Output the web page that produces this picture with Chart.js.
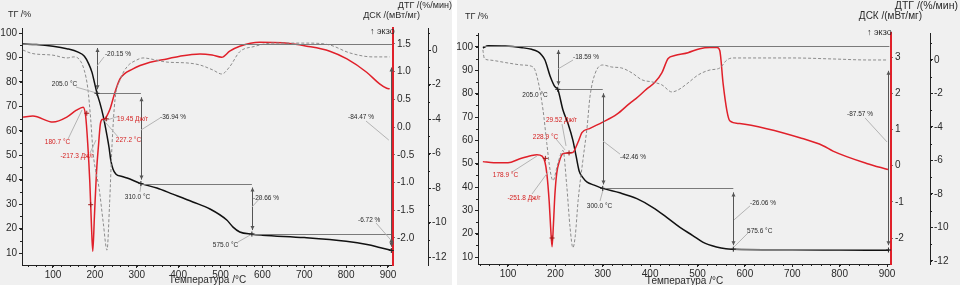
<!DOCTYPE html>
<html>
<head>
<meta charset="utf-8">
<script src="https://cdn.jsdelivr.net/npm/chart.js@4.4.1/dist/chart.umd.min.js"></script>
<style>
    html, body { margin: 0; padding: 0; background: #fff; }
    #wrap { position: relative; width: 960px; height: 285px; overflow: hidden; }
    canvas { position: absolute; top: 0; }
    #left-chart { left: 0; }
    #right-chart { left: 457px; }
</style>
</head>
<body>
<div id="wrap">
    <canvas id="left-chart" width="452" height="285"></canvas>
    <canvas id="right-chart" width="503" height="285"></canvas>
</div>
<script>
// ---- left sample: values ----
const leftTgTemp = [28, 60, 100, 133, 160, 175, 185, 193, 200, 205, 212, 220, 229, 234, 238, 243, 250, 265, 277, 310, 348, 386, 434, 475, 515, 530, 546, 575, 600, 700, 800, 850, 880, 910];
const leftTg = [95.5, 95.3, 94.6, 93.6, 92.2, 90.5, 87.5, 84.0, 79.0, 75.4, 71.4, 66.0, 58.0, 53.0, 48.0, 44.5, 42.3, 41.3, 40.7, 38.4, 36.6, 34.1, 30.9, 28.0, 23.5, 20.6, 18.6, 17.7, 17.3, 16.3, 14.8, 13.5, 12.3, 11.0];

const leftDscTemp = [28, 52, 100, 133, 155, 172, 178, 183, 188, 192, 195, 199, 204, 209, 213, 218, 224, 230, 236, 248, 260, 291, 332, 372, 403, 451, 480, 503, 522, 546, 594, 649, 706, 761, 802, 849, 880, 897, 904];
const leftDsc = [0.18, 0.20, 0.09, 0.18, 0.30, 0.36, 0.20, -0.30, -1.00, -1.80, -2.24, -1.60, -0.80, -0.30, 0.05, 0.14, 0.15, 0.22, 0.32, 0.63, 0.87, 1.05, 1.17, 1.23, 1.28, 1.32, 1.30, 1.26, 1.37, 1.46, 1.53, 1.52, 1.46, 1.37, 1.23, 0.99, 0.78, 0.70, 0.69];

const leftDtgTemp = [28, 50, 100, 133, 150, 164, 175, 183, 190, 196, 202, 210, 220, 229, 235, 241, 248, 260, 277, 300, 315, 340, 372, 420, 451, 482, 503, 522, 546, 580, 625, 706, 761, 809, 864, 904];
const leftDtg = [0.0, -0.2, -0.3, -0.46, -0.4, -0.58, -1.2, -2.2, -4.0, -6.0, -7.0, -8.0, -10.0, -11.6, -9.0, -5.5, -2.9, -1.74, -0.97, -0.58, -0.46, -0.55, -0.7, -0.75, -0.87, -1.16, -1.39, -0.97, -0.1, 0.2, 0.4, 0.4, 0.29, -0.17, -0.4, -0.4];

// ---- right sample ----
const rightTgTemp = [47, 58, 94, 130, 150, 163, 170, 178, 189, 199, 205, 216, 227, 237, 244, 250, 258, 267, 282, 300, 336, 372, 406, 435, 463, 490, 511, 540, 560, 576, 700, 800, 905];
const rightTg = [99.6, 100.5, 100.4, 99.7, 99.0, 98.0, 96.8, 94.4, 87.5, 83.0, 81.9, 73.0, 67.0, 60.0, 53.0, 47.0, 44.0, 42.1, 40.8, 39.4, 37.5, 35.0, 31.2, 27.0, 22.7, 19.2, 16.4, 14.3, 13.5, 13.35, 13.1, 13.0, 12.9];

const rightDscTemp = [47, 70, 100, 125, 150, 161, 172, 178, 182, 187, 190, 193, 196, 199, 203, 208, 216, 226, 237, 243, 248, 256, 273, 300, 330, 357, 370, 393, 410, 425, 438, 452, 480, 505, 526, 541, 547, 554, 562, 568, 589, 646, 716, 765, 786, 857, 902];
const rightDsc = [0.11, 0.08, 0.08, 0.19, 0.28, 0.30, 0.26, 0.10, -0.22, -1.0, -1.7, -2.24, -1.6, -0.8, -0.2, 0.1, 0.33, 0.35, 0.36, 0.5, 0.65, 0.91, 1.03, 1.2, 1.42, 1.72, 1.85, 2.12, 2.3, 2.57, 2.96, 3.04, 3.12, 3.23, 3.26, 3.26, 3.18, 2.27, 1.52, 1.24, 1.16, 1.02, 0.77, 0.55, 0.40, 0.06, -0.11];

const rightDtgTemp = [47, 50, 60, 100, 130, 153, 163, 174, 182, 189, 195, 205, 216, 224, 231, 237, 242, 248, 258, 267, 273, 284, 300, 319, 340, 362, 383, 404, 425, 446, 459, 480, 501, 526, 547, 562, 575, 700, 786, 860, 902];
const rightDtg = [0.6, 0.1, 0.0, -0.18, -0.3, -0.42, -1.2, -3.0, -5.0, -6.6, -7.2, -6.2, -5.4, -7.5, -10.0, -11.2, -10.5, -8.4, -6.0, -4.0, -2.2, -0.8, -0.3, -0.42, -0.48, -0.78, -1.19, -1.31, -1.49, -1.91, -1.79, -1.37, -0.9, -0.6, -0.48, 0.0, 0.12, 0.12, 0.06, 0.0, 0.0];

// ---- tick labels ----
const tempTicks = [100, 200, 300, 400, 500, 600, 700, 800, 900];
const tgTicks = [10, 20, 30, 40, 50, 60, 70, 80, 90, 100];
const leftDscTicks = [-2.0, -1.5, -1.0, -0.5, 0.0, 0.5, 1.0, 1.5];
const rightDscTicks = [-2, -1, 0, 1, 2, 3];
const dtgTicks = [-12, -10, -8, -6, -4, -2, 0];

// ---- annotations (data units: temperature, TG %, DSC) ----
const leftNotes = {
    levels: [[95.5, 28, 910], [75.35, 205, 310], [38.41, 310, 575], [17.75, 575, 910]],
    arrows: [[205, 95.5, 75.35], [310, 75.35, 38.41], [575, 38.41, 17.75], [908, 17.75, 11.03], [908, 87.5, 11.03]],
    tgMarks: [[205, 75.35], [310, 38.41], [575, 17.75], [908, 11.03]],
    dscMarks: [[227.2, 0.15], [180.7, 0.25], [190, -1.4]],
    labels: [
        ['-20.15 %', 224, 91.4, 'left', false, [221.8, 90.2, 205.1, 86.5]],
        ['205.0 °C', 127.5, 79.1, 'center', false, [155, 77.9, 205, 75.4]],
        ['-36.94 %', 355.6, 65.6, 'left', false, [355.6, 65.2, 310, 60.3]],
        ['310.0 °C', 301.8, 32.9, 'center', false, [307.8, 35, 310, 37.8]],
        ['-20.66 %', 577.6, 32.5, 'left', false, [599, 33.3, 575, 28.8]],
        ['575.0 °C', 512, 13.3, 'center', false, [541.8, 14.5, 575, 17.75]],
        ['-6.72 %', 828.4, 23.5, 'left', false, [871.4, 22.3, 907, 15.3]],
        ['-84.47 %', 804.5, 65.6, 'left', false, [847.5, 64, 902, 56.2]],
        ['180.7 °C', 110.8, 55.4, 'center', true, [135.9, 56.6, 169.3, 68.5]],
        ['-217.3 Дж/г', 157.3, 49.7, 'center', true, [188.4, 50.9, 202.7, 56.2]],
        ['19.45 Дж/г', 289.9, 64.8, 'center', true, [257.6, 66.0, 221.8, 64.0]],
        ['227.2 °C', 280.3, 56.2, 'center', true, [255.3, 57.5, 226.6, 63.2]]
    ]
};

const rightNotes = {
    levels: [[100.46, 47, 905], [81.87, 205, 300], [39.41, 300, 575.6], [13.35, 575.6, 905]],
    arrows: [[205, 100.46, 81.87], [300, 81.87, 39.41], [575.6, 39.41, 13.35], [903, 91.5, 13.35]],
    tgMarks: [[205, 81.87], [300, 39.41], [575.6, 13.35], [903, 13.0]],
    dscMarks: [[228.9, 0.35], [178.9, 0.2], [193, -2.0]],
    labels: [
        ['-18.59 %', 237.2, 95.7, 'left', false, [237.2, 94.4, 205.6, 90.6]],
        ['205.0 °C', 157, 79.4, 'center', false, null],
        ['-42.46 %', 336.4, 52.9, 'left', false, [336.4, 54.1, 300.5, 59.7]],
        ['300.0 °C', 293.2, 31.9, 'center', false, [294.2, 34, 300.5, 38.7]],
        ['-26.06 %', 610.8, 33.1, 'left', false, [610.8, 31.9, 577, 25.9]],
        ['575.6 °C', 604.5, 21.1, 'left', false, [606.6, 20.3, 577, 14.3]],
        ['-87.57 %', 815.6, 71.3, 'left', false, [853.6, 69.6, 900, 59.3]],
        ['178.9 °C', 94.7, 45.1, 'center', true, [108.5, 46.4, 161.2, 53.3]],
        ['-251.8 Дж/г', 133.8, 35.3, 'center', true, [150.7, 37, 184.5, 46.4]],
        ['29.52 Дж/г', 212.9, 68.7, 'center', true, [214, 67, 222.5, 57.6]],
        ['228.9 °C', 179.2, 61.4, 'center', true, [201.3, 60.6, 220.3, 55.9]]
    ]
};

const FONT = '"Liberation Sans", Arial, sans-serif';
const RED = '#e0202a';
const TEXT = '#2a2a2a';

function points(xs, ys) {
    return xs.map((x, i) => ({ x: x, y: ys[i] }));
}

function fixedTicks(values) {
    return scale => { scale.ticks = values.map(v => ({ value: v })); };
}

function cross(ctx, x, y) {
    ctx.beginPath();
    ctx.moveTo(x - 2.5, y);
    ctx.lineTo(x + 2.5, y);
    ctx.moveTo(x, y - 2.5);
    ctx.lineTo(x, y + 2.5);
    ctx.stroke();
}

function drawNotes(chart, notes) {
    const ctx = chart.ctx;
    const px = v => chart.scales.x.getPixelForValue(v);
    const py = v => chart.scales.yTG.getPixelForValue(v);
    const pd = v => chart.scales.yDSC.getPixelForValue(v);
    ctx.save();
    ctx.lineWidth = 1;

    // level lines
    ctx.strokeStyle = '#7a7a7a';
    notes.levels.forEach(l => {
        const y = Math.round(py(l[0])) + 0.5;
        ctx.beginPath();
        ctx.moveTo(px(l[1]), y);
        ctx.lineTo(px(l[2]), y);
        ctx.stroke();
    });

    // double arrows for mass steps
    ctx.strokeStyle = '#555';
    ctx.fillStyle = '#555';
    notes.arrows.forEach(a => {
        const x = Math.round(px(a[0])) + 0.5;
        const y1 = py(a[1]) + 4, y2 = py(a[2]) - 4;
        ctx.beginPath();
        ctx.moveTo(x, y1);
        ctx.lineTo(x, y2);
        ctx.stroke();
        [[y1, 1], [y2, -1]].forEach(h => {
            ctx.beginPath();
            ctx.moveTo(x, h[0]);
            ctx.lineTo(x - 2, h[0] + 4 * h[1]);
            ctx.lineTo(x + 2, h[0] + 4 * h[1]);
            ctx.closePath();
            ctx.fill();
        });
    });

    // leader lines
    ctx.strokeStyle = '#b4b4b4';
    notes.labels.forEach(l => {
        const lead = l[5];
        if (!lead) return;
        ctx.beginPath();
        ctx.moveTo(px(lead[0]), py(lead[1]));
        ctx.lineTo(px(lead[2]), py(lead[3]));
        ctx.stroke();
    });

    // small cross markers on the curves
    ctx.strokeStyle = '#222';
    notes.tgMarks.forEach(m => cross(ctx, px(m[0]), py(m[1])));
    ctx.strokeStyle = '#a01818';
    notes.dscMarks.forEach(m => cross(ctx, px(m[0]), pd(m[1])));

    // label text
    ctx.font = '6.5px ' + FONT;
    ctx.textBaseline = 'middle';
    notes.labels.forEach(l => {
        ctx.fillStyle = l[4] ? '#d42020' : TEXT;
        ctx.textAlign = l[3];
        ctx.fillText(l[0], px(l[1]), py(l[2]));
    });
    ctx.restore();
}

function drawTitles(chart, titles) {
    const ctx = chart.ctx;
    const area = chart.chartArea;
    ctx.save();
    ctx.fillStyle = TEXT;
    ctx.textBaseline = 'middle';
    ctx.font = '9px ' + FONT;
    ctx.textAlign = 'left';
    ctx.fillText('ТГ /%', titles.tg[0], titles.tg[1]);
    ctx.textAlign = 'right';
    ctx.font = titles.dtgSize + 'px ' + FONT;
    ctx.fillText('ДТГ /(%/мин)', titles.dtg[0], titles.dtg[1]);
    ctx.font = titles.dscSize + 'px ' + FONT;
    ctx.fillText('ДСК /(мВт/мг)', titles.dsc[0], titles.dsc[1]);
    ctx.font = '9px ' + FONT;
    ctx.textAlign = 'left';
    ctx.fillText('↑ экзо', titles.exo[0], titles.exo[1]);
    ctx.font = '10px ' + FONT;
    ctx.textAlign = 'center';
    ctx.fillText('Температура /°C', (area.left + area.right) / 2, titles.temp);
    ctx.restore();
}

function drawMinorTicks(chart) {
    const ctx = chart.ctx;
    const sx = chart.scales.x, sy = chart.scales.yTG, sd = chart.scales.yDTG;
    ctx.save();
    ctx.strokeStyle = '#222';
    ctx.lineWidth = 1;
    ctx.beginPath();
    for (let t = 0; t <= sx.max; t += 20) {
        if (t < sx.min) continue;
        const x = Math.round(sx.getPixelForValue(t)) + 0.5;
        ctx.moveTo(x, sx.top);
        ctx.lineTo(x, sx.top + 2);
    }
    for (let v = 5; v <= sy.max; v += 5) {
        if (v < sy.min) continue;
        const y = Math.round(sy.getPixelForValue(v)) + 0.5;
        ctx.moveTo(sy.right, y);
        ctx.lineTo(sy.right - 2, y);
    }
    for (let v = -12; v <= sd.max; v += 1) {
        if (v < sd.min) continue;
        const y = Math.round(sd.getPixelForValue(v)) + 0.5;
        ctx.moveTo(sd.left, y);
        ctx.lineTo(sd.left + 2, y);
    }
    ctx.stroke();
    ctx.restore();
}

function axisTicks(extra) {
    return Object.assign({ color: TEXT, font: { size: 10, family: FONT }, autoSkip: false, maxRotation: 0 }, extra);
}

function buildPanel(canvasId, series, geom, dscTicks, dscFormat, notes, titles) {
    const ctx = document.getElementById(canvasId).getContext('2d');
    return new Chart(ctx, {
        type: 'line',
        data: {
            datasets: [
                {
                    label: 'ДТГ',
                    data: points(series.dtgTemp, series.dtg),
                    yAxisID: 'yDTG',
                    borderColor: '#8c8c8c',
                    borderWidth: 1,
                    borderDash: [3, 2]
                },
                {
                    label: 'ДСК',
                    data: points(series.dscTemp, series.dsc),
                    yAxisID: 'yDSC',
                    borderColor: RED,
                    borderWidth: 1.5
                },
                {
                    label: 'ТГ',
                    data: points(series.tgTemp, series.tg),
                    yAxisID: 'yTG',
                    borderColor: '#111',
                    borderWidth: 1.5
                }
            ]
        },
        options: {
            responsive: false,
            animation: false,
            devicePixelRatio: 1,
            layout: { padding: { top: geom.top, left: 0, right: 0, bottom: 0 } },
            elements: {
                point: { radius: 0 },
                line: { cubicInterpolationMode: 'monotone', fill: false }
            },
            plugins: { legend: { display: false }, tooltip: { enabled: false } },
            scales: {
                x: {
                    type: 'linear',
                    min: geom.xMin,
                    max: geom.xMax,
                    afterBuildTicks: fixedTicks(tempTicks),
                    afterFit: s => { s.height = geom.bottom; },
                    grid: { drawOnChartArea: false, tickLength: 3, color: '#222' },
                    border: { color: '#222', width: 1 },
                    ticks: axisTicks({ padding: 1 })
                },
                yTG: {
                    type: 'linear',
                    position: 'left',
                    min: geom.tgMin,
                    max: geom.tgMax,
                    afterBuildTicks: fixedTicks(tgTicks),
                    afterFit: s => { s.width = geom.tgW; },
                    grid: { drawOnChartArea: false, tickLength: 3, color: '#222' },
                    border: { color: '#222', width: 1 },
                    ticks: axisTicks({ padding: 2 })
                },
                yDSC: {
                    type: 'linear',
                    position: 'right',
                    weight: 1,
                    min: geom.dscMin,
                    max: geom.dscMax,
                    afterBuildTicks: fixedTicks(dscTicks),
                    afterFit: s => { s.width = geom.dscW; },
                    grid: { drawOnChartArea: false, tickLength: 2, color: '#777' },
                    border: { color: RED, width: 2 },
                    ticks: axisTicks({ padding: 2, callback: dscFormat })
                },
                yDTG: {
                    type: 'linear',
                    position: 'right',
                    weight: 2,
                    min: geom.dtgMin,
                    max: geom.dtgMax,
                    afterBuildTicks: fixedTicks(dtgTicks),
                    afterFit: s => { s.width = geom.dtgW; },
                    grid: { drawOnChartArea: false, tickLength: 3, color: '#222' },
                    border: { color: '#222', width: 1 },
                    ticks: axisTicks({ padding: 1 })
                }
            }
        },
        plugins: [{
            id: 'panelDecor',
            beforeDraw: chart => {
                const c = chart.ctx;
                c.save();
                c.fillStyle = '#f0f0f0';
                c.fillRect(0, 0, chart.width, chart.height);
                c.restore();
            },
            afterDatasetsDraw: chart => drawNotes(chart, notes),
            afterDraw: chart => {
                drawMinorTicks(chart);
                drawTitles(chart, titles);
            }
        }]
    });
}

buildPanel('left-chart',
    { tgTemp: leftTgTemp, tg: leftTg, dscTemp: leftDscTemp, dsc: leftDsc, dtgTemp: leftDtgTemp, dtg: leftDtg },
    { top: 28, bottom: 20, tgW: 22, dscW: 35, dtgW: 24,
      xMin: 26, xMax: 912, tgMin: 5.1, tgMax: 102.05, dscMin: -2.488, dscMax: 1.788, dtgMin: -12.46, dtgMax: 1.275 },
    leftDscTicks, v => v.toFixed(1), leftNotes,
    { tg: [8, 15], dtg: [452, 6], dsc: [420, 16], exo: [370, 32], temp: 280, dtgSize: 9, dscSize: 9 });

buildPanel('right-chart',
    { tgTemp: rightTgTemp, tg: rightTg, dscTemp: rightDscTemp, dsc: rightDsc, dtgTemp: rightDtgTemp, dtg: rightDtg },
    { top: 33, bottom: 21, tgW: 21, dscW: 39, dtgW: 30,
      xMin: 36.7, xMax: 908.4, tgMin: 7.0, tgMax: 106, dscMin: -2.718, dscMax: 3.663, dtgMin: -12.18, dtgMax: 1.61 },
    rightDscTicks, v => String(v), rightNotes,
    { tg: [8, 17], dtg: [501, 6], dsc: [465, 16], exo: [410, 33], temp: 281, dtgSize: 10.5, dscSize: 10 });
</script>
</body>
</html>
